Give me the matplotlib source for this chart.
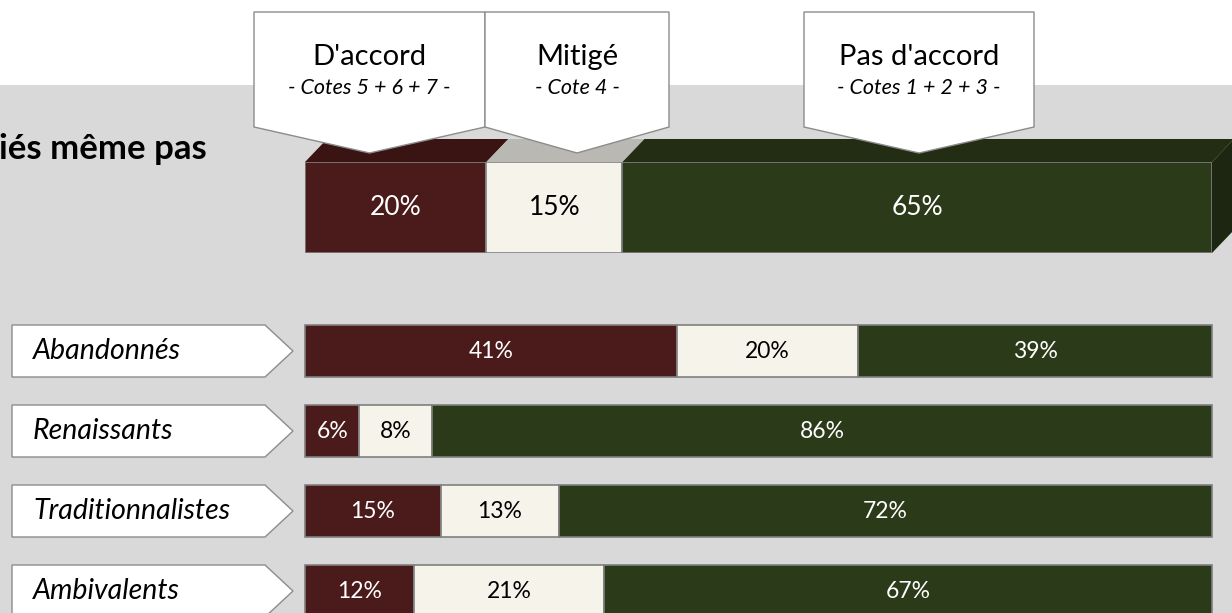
import numpy as np
import matplotlib
matplotlib.use('Agg')
import matplotlib.pyplot as plt
from matplotlib.patches import Polygon, Rectangle

plt.rcParams['font.family'] = ['Lato', 'DejaVu Sans']

# Data
categories = ['D\'accord', 'Mitigé', 'Pas d\'accord']
subtitles = ['- Cotes 5 + 6 + 7 -', '- Cote 4 -', '- Cotes 1 + 2 + 3 -']
total_values = [20, 15, 65]
groups = ['Abandonnés', 'Renaissants', 'Traditionnalistes', 'Ambivalents']
group_values = [
    [41, 20, 39],
    [6, 8, 86],
    [15, 13, 72],
    [12, 21, 67],
]
title_fragment = 'iés même pas'

# Style
front_colors = ['#4B1A1A', '#F6F3EA', '#2B3A18']
top_colors = ['#3A1313', '#B9B8B2', '#222D13']
side_color = '#1C2610'
text_colors = ['white', 'black', 'white']
edge = '#808080'
bg_gray = '#D9D9D9'

W, H = 1232, 613
fig = plt.figure(figsize=(W / 100, H / 100), dpi=100)
fig.patch.set_facecolor('white')
fig.patches.append(Rectangle((0, 0), 1, (H - 85) / H, transform=fig.transFigure,
                             facecolor=bg_gray, edgecolor='none', zorder=0))

def px_axes(x0, y0, x1, y1):
    return [x0 / W, (H - y1) / H, (x1 - x0) / W, (y1 - y0) / H]

# Top 3D bar
ax_top = fig.add_axes(px_axes(305, 162, 1212, 253), zorder=1)
ax_top.set_xlim(0, 100)
ax_top.set_ylim(0, 1)
ax_top.axis('off')
lefts = np.concatenate([[0], np.cumsum(total_values)[:-1]])
ax_top.barh(0.5, total_values, left=lefts, height=1, color=front_colors,
            edgecolor=edge, linewidth=1.2, zorder=3)
dx = 22 / 907 * 100
dy = 23 / 91
for l, v, c in zip(lefts, total_values, top_colors):
    ax_top.add_patch(Polygon([(l, 1), (l + v, 1), (l + v + dx, 1 + dy), (l + dx, 1 + dy)],
                             closed=True, facecolor=c, edgecolor='none', clip_on=False, zorder=2))
end = lefts[-1] + total_values[-1]
ax_top.add_patch(Polygon([(end, 0), (end, 1), (end + dx, 1 + dy), (end + dx, dy)],
                         closed=True, facecolor=side_color, edgecolor='none', clip_on=False, zorder=2))
for l, v, tc in zip(lefts, total_values, text_colors):
    ax_top.text(l + v / 2, 0.5, f'{v}%', ha='center', va='center', color=tc,
                fontsize=19, zorder=4)

# Group bars
ax = fig.add_axes(px_axes(305, 311, 1212, 631), zorder=1)
ax.set_xlim(0, 100)
ax.set_ylim(3.5, -0.5)
ax.axis('off')
vals = np.array(group_values)
y = np.arange(len(groups))
left = np.zeros(len(groups))
for k in range(3):
    ax.barh(y, vals[:, k], left=left, height=0.65, color=front_colors[k],
            edgecolor=edge, linewidth=1.2, clip_on=False)
    for i in range(len(groups)):
        ax.text(left[i] + vals[i, k] / 2, y[i], f'{vals[i, k]}%', ha='center', va='center',
                color=text_colors[k], fontsize=16.5)
    left += vals[:, k]

# Overlay for callouts and labels (pixel coordinates)
ov = fig.add_axes([0, 0, 1, 1], zorder=5)
ov.set_xlim(0, W)
ov.set_ylim(H, 0)
ov.axis('off')
ov.patch.set_alpha(0)

ov.text(207, 159, title_fragment, ha='right', va='baseline', fontsize=25,
        fontweight='bold', color='black')

callout_boxes = [(254, 485), (485, 669), (804, 1034)]
for (x0, x1), cat, sub in zip(callout_boxes, categories, subtitles):
    xm = (x0 + x1) / 2
    ov.add_patch(Polygon([(x0, 12), (x1, 12), (x1, 127), (xm, 153), (x0, 127)],
                         closed=True, facecolor='white', edgecolor='#8C8C8C', linewidth=1))
    ov.text(xm, 57, cat, ha='center', va='center', fontsize=21)
    ov.text(xm, 88, sub, ha='center', va='center', fontsize=15.5, style='italic')

# Group label arrows, aligned with the bar rows
for i, g in enumerate(groups):
    yc = H - ax.transData.transform((0, y[i]))[1]
    ov.add_patch(Polygon([(12, yc - 26), (265, yc - 26), (293, yc), (265, yc + 26), (12, yc + 26)],
                         closed=True, facecolor='white', edgecolor='#8C8C8C', linewidth=1))
    ov.text(33, yc, g, ha='left', va='center', fontsize=20.5, style='italic')

fig.savefig('out.png', dpi=100)
